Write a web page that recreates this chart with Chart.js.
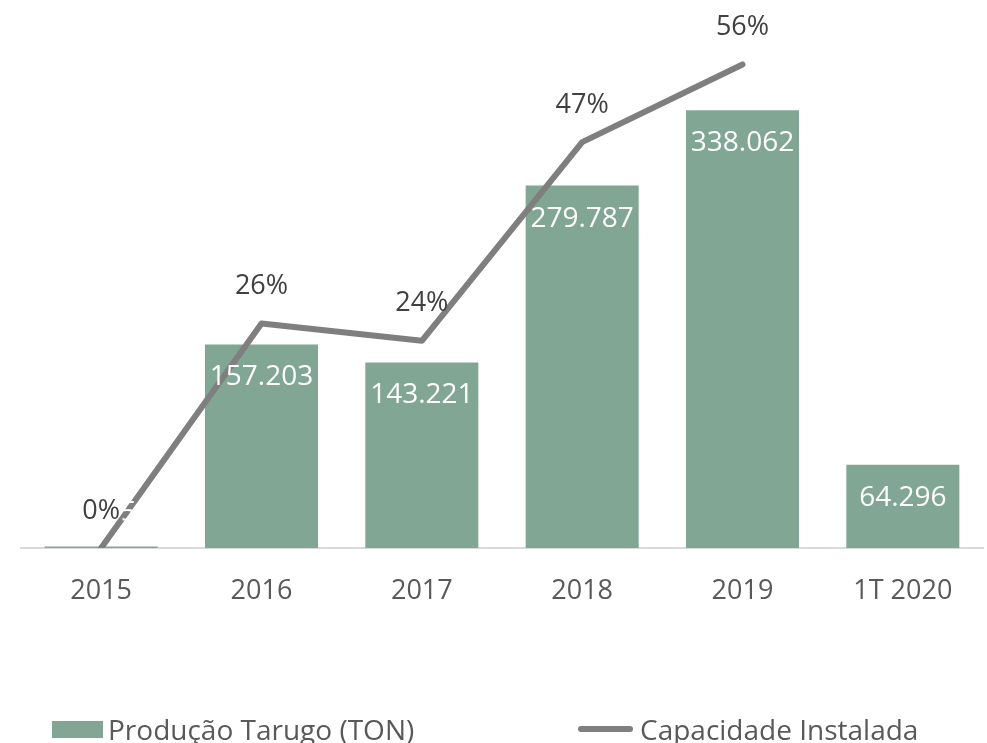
<!DOCTYPE html>
<html>
<head>
<meta charset="utf-8">
<script src="https://cdn.jsdelivr.net/npm/chart.js@4.4.0/dist/chart.umd.min.js"></script>
<style>
  html, body { margin: 0; padding: 0; background: #fff; }
  #wrap { position: relative; width: 987px; height: 743px; }
  .leg { position: absolute; top: 711px; height: 36px; display: flex; align-items: center;
         font-family: "Open Sans", sans-serif; font-size: 28px; color: #595959; white-space: nowrap; }
  .sw-bar { width: 51px; height: 17px; background: #82a694; margin-right: 5px; }
  .sw-line { width: 55px; height: 6px; border-radius: 3px; background: #7f7f7f; margin-right: 7px; }
</style>
</head>
<body>
<div id="wrap">
  <canvas id="chart"></canvas>
  <div class="leg" style="left:52px"><span class="sw-bar"></span>Produção Tarugo (TON)</div>
  <div class="leg" style="left:578px"><span class="sw-line"></span>Capacidade Instalada</div>
</div>
<script>
const categories = ['2015', '2016', '2017', '2018', '2019', '1T 2020'];
const production = [1215, 157203, 143221, 279787, 338062, 64296];
const capacity = [0, 26, 24, 47, 56, null];

function formatTon(v) {
    return String(v).replace(/\B(?=(\d{3})+(?!\d))/g, '.');
}

// labels drawn by hand, no datalabels plugin offline
const valueLabels = {
    id: 'valueLabels',
    afterDatasetsDraw(chart) {
        const ctx = chart.ctx;
        const bars = chart.getDatasetMeta(0).data;
        const points = chart.getDatasetMeta(1).data;
        ctx.save();
        ctx.textAlign = 'center';
        ctx.textBaseline = 'middle';

        ctx.font = '28px "Open Sans"';
        ctx.fillStyle = '#ffffff';
        bars.forEach((bar, i) => {
            const h = bar.base - bar.y;
            const y = h > 66 ? bar.y + 33 : bar.y - 33;
            ctx.fillText(formatTon(production[i]), bar.x, y);
        });

        ctx.font = '27px "Open Sans"';
        ctx.fillStyle = '#404040';
        points.forEach((pt, i) => {
            if (capacity[i] == null) return;
            ctx.fillText(capacity[i] + '%', pt.x, pt.y - 37);
        });
        ctx.restore();
    }
};

const ctx = document.getElementById('chart').getContext('2d');
new Chart(ctx, {
    data: {
        labels: categories,
        datasets: [{
            type: 'bar',
            label: 'Produção Tarugo (TON)',
            data: production,
            backgroundColor: '#82a694',
            yAxisID: 'y',
            order: 2,
            barPercentage: 1,
            categoryPercentage: 0.705
        }, {
            type: 'line',
            label: 'Capacidade Instalada',
            data: capacity,
            borderColor: '#7f7f7f',
            borderWidth: 6,
            borderCapStyle: 'round',
            borderJoinStyle: 'round',
            pointRadius: 0,
            fill: false,
            yAxisID: 'y1',
            order: 1
        }]
    },
    options: {
        responsive: true,
        maintainAspectRatio: false,
        animation: false,
        layout: { padding: { left: 21, right: 4, top: 4, bottom: 0 } },
        plugins: {
            legend: { display: false },
            tooltip: { enabled: false }
        },
        scales: {
            x: {
                grid: { display: false },
                border: { display: true, color: '#d9d9d9', width: 2 },
                ticks: {
                    color: '#595959',
                    font: { family: 'Open Sans', size: 27 },
                    padding: 19
                },
                afterFit: scale => { scale.height = 195; }
            },
            y: { display: false, min: 0, max: 420000 },
            y1: { display: false, min: 0, max: 63 }
        }
    },
    plugins: [valueLabels]
});
</script>
</body>
</html>
